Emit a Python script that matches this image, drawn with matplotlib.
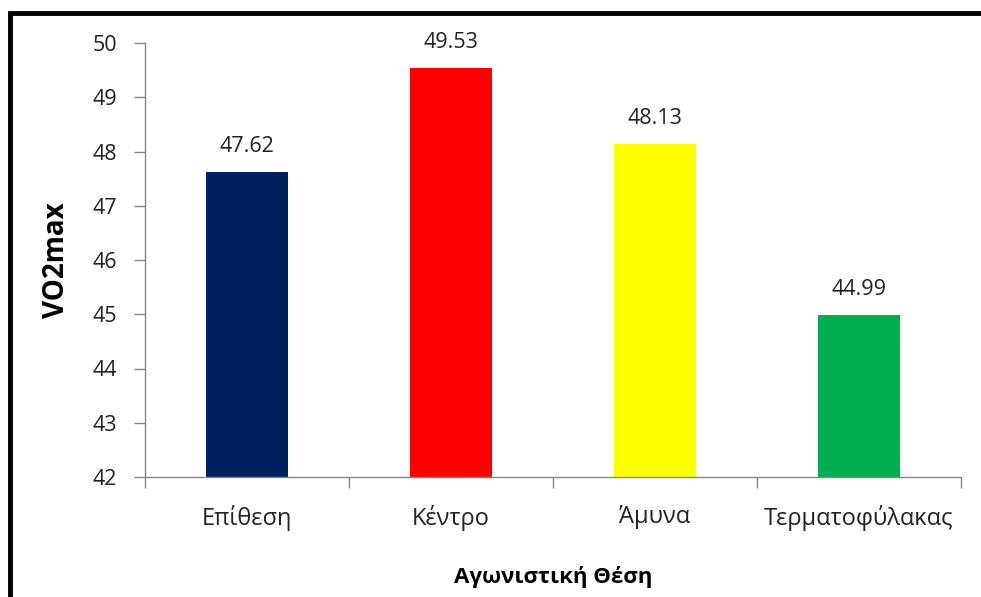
import matplotlib
matplotlib.use("Agg")
import matplotlib.pyplot as plt
from matplotlib.patches import Rectangle

plt.rcParams['font.family'] = ['Open Sans', 'Noto Sans', 'DejaVu Sans']

positions = ["Επίθεση", "Κέντρο", "Άμυνα", "Τερματοφύλακας"]
vo2max = [47.62, 49.53, 48.13, 44.99]
bar_colors = ["#002060", "#FF0000", "#FFFF00", "#00B050"]
y_ticks = [42, 43, 44, 45, 46, 47, 48, 49, 50]

W, H = 981, 597
fig = plt.figure(figsize=(W / 100, H / 100), dpi=100)
fig.patch.set_facecolor("white")

# frame around the chart (runs off the right and bottom edges)
fig.patches.append(Rectangle((10 / W, -0.1), 1.2, 1 - 13 / H + 0.1,
                             transform=fig.transFigure, fill=False,
                             edgecolor="black", linewidth=3.5, zorder=10))

ax = fig.add_axes([145 / W, 1 - 477 / H, (961 - 145) / W, (477 - 43) / H])
x = range(len(positions))
ax.bar(x, vo2max, width=0.4, color=bar_colors, zorder=2)
ax.set_ylim(42, 50)
ax.set_xlim(-0.5, len(positions) - 0.5)
ax.set_yticks(y_ticks)
ax.set_yticklabels([str(t) for t in y_ticks], fontsize=15.5, color="#222222")

# category labels centred, tick marks at category boundaries
ax.set_xticks(list(x))
ax.set_xticklabels(positions, fontsize=17, color="#222222")
ax.tick_params(axis="x", length=0, pad=20)
ax.set_xticks([i - 0.5 for i in range(len(positions) + 1)], minor=True)
ax.tick_params(axis="x", which="minor", length=8, color="#868686", width=1)
ax.tick_params(axis="y", length=8, color="#868686", width=1, pad=12)

for s in ["top", "right"]:
    ax.spines[s].set_visible(False)
for s in ["left", "bottom"]:
    ax.spines[s].set_color("#868686")
    ax.spines[s].set_linewidth(1)

for xi, v in zip(x, vo2max):
    ax.text(xi, v + 0.47, f"{v:.2f}", ha="center", va="center",
            fontsize=15.5, color="#222222")

ax.set_ylabel("VO2max", fontsize=20, fontweight="bold", va="center")
ax.yaxis.set_label_coords((56 - 145) / 816, 0.5)
ax.set_xlabel("Αγωνιστική Θέση", fontsize=16, fontweight="bold", va="center")
ax.xaxis.set_label_coords(0.5, (477 - 577) / 434)

fig.savefig("out.png", dpi=100)
